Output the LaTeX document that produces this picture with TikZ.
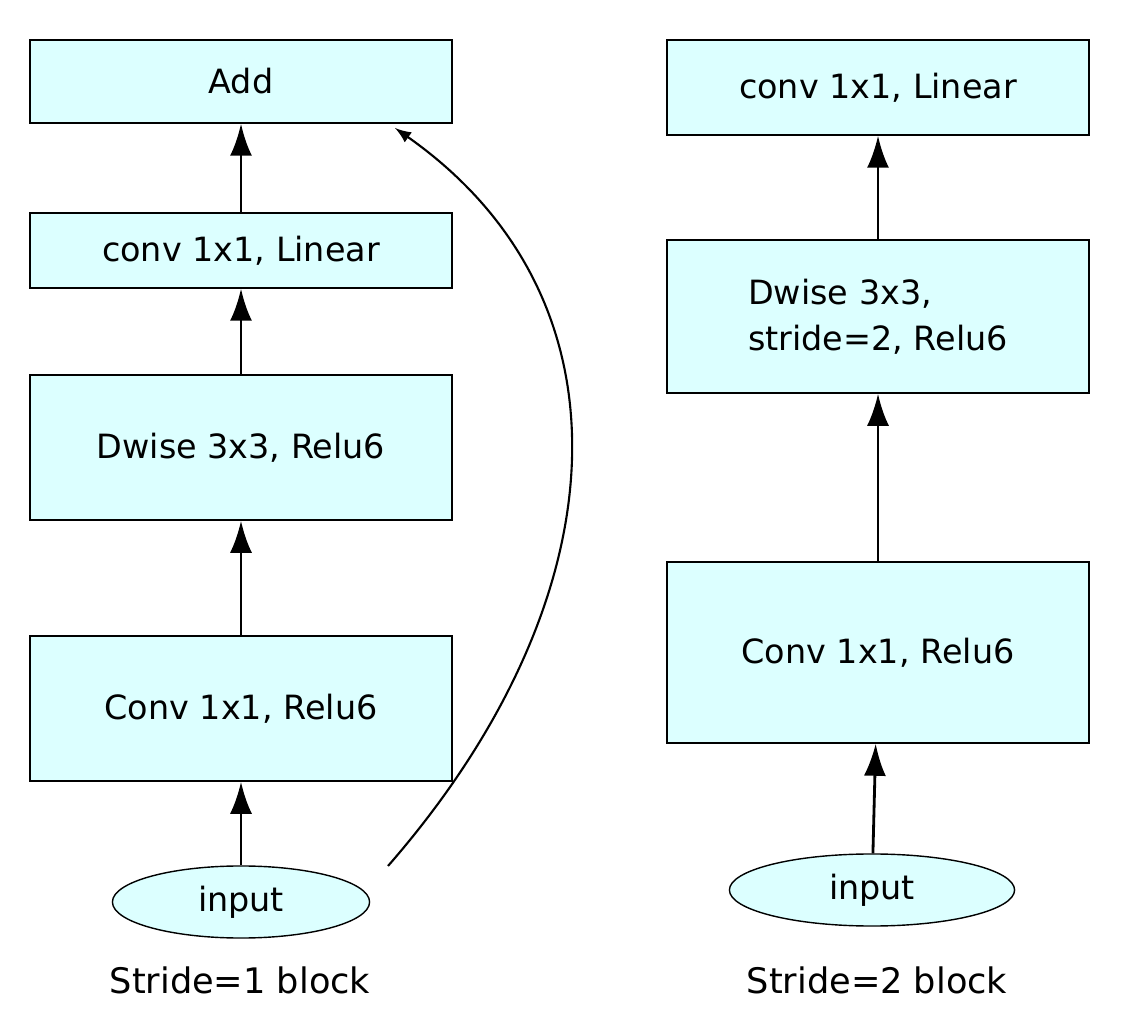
\documentclass[tikz,border=0pt]{standalone}
\usepackage{fontspec}
\setmainfont{DejaVu Sans}
\usetikzlibrary{arrows,arrows.meta,shapes.geometric}
\definecolor{boxfill}{RGB}{220,255,255}

\begin{document}
\begin{tikzpicture}[x=0.01cm,y=-0.01cm]
    \path[use as bounding box] (0,0) rectangle (1130,1034);

    \tikzset{ blk/.style ={draw, fill=boxfill, minimum width=4.22cm, inner sep=0pt, font=\fontsize{9.5}{13}\selectfont} }
    \tikzset{ inp/.style ={draw, fill=boxfill, ellipse, inner sep=0pt, font=\fontsize{9.5}{13}\selectfont} }
    \tikzset{ up/.style  ={-{Latex[length=0.32cm,width=0.22cm]}, line width=0.8pt} }

    % stride 1
    \node[blk, minimum height=0.83cm] (add)  at (241, 81.5) {Add};
    \node[blk, minimum height=0.75cm] (lin1) at (241,250.5) {conv 1x1, Linear};
    \node[blk, minimum height=1.45cm] (dw1)  at (241,447.5) {Dwise 3x3, Relu6};
    \node[blk, minimum height=1.45cm] (cv1)  at (241,708.5) {Conv 1x1, Relu6};
    \node[inp, minimum width=2.57cm, minimum height=0.72cm] (in1) at (241,902) {input};
    \node[font=\fontsize{10}{13}\selectfont] (lab1) at (240,980) {Stride=1 block};

    \draw[up] (in1) -- (cv1);
    \draw[up] (cv1) -- (dw1);
    \draw[up] (dw1) -- (lin1);
    \draw[up] (lin1) -- (add);
    \coordinate (skip) at (388,866);
    \coordinate (addin) at (395,128);
    \draw[->,>=latex, line width=0.6pt] (skip) .. controls (620,600) and (640,300) .. (addin);

    % stride 2
    \node[blk, minimum height=0.95cm] (lin2) at (878, 87.5) {conv 1x1, Linear};
    \node[blk, minimum height=1.53cm, align=left] (dw2) at (878,316.5) {Dwise 3x3,\\stride=2, Relu6};
    \node[blk, minimum height=1.81cm] (cv2)  at (878,652.5) {Conv 1x1, Relu6};
    \node[inp, minimum width=2.85cm, minimum height=0.72cm] (in2) at (872,890) {input};
    \node[font=\fontsize{10}{13}\selectfont] (lab2) at (877,980) {Stride=2 block};

    \draw[up] (in2) -- (cv2);
    \draw[up] (cv2) -- (dw2);
    \draw[up] (dw2) -- (lin2);
\end{tikzpicture}
\end{document}
